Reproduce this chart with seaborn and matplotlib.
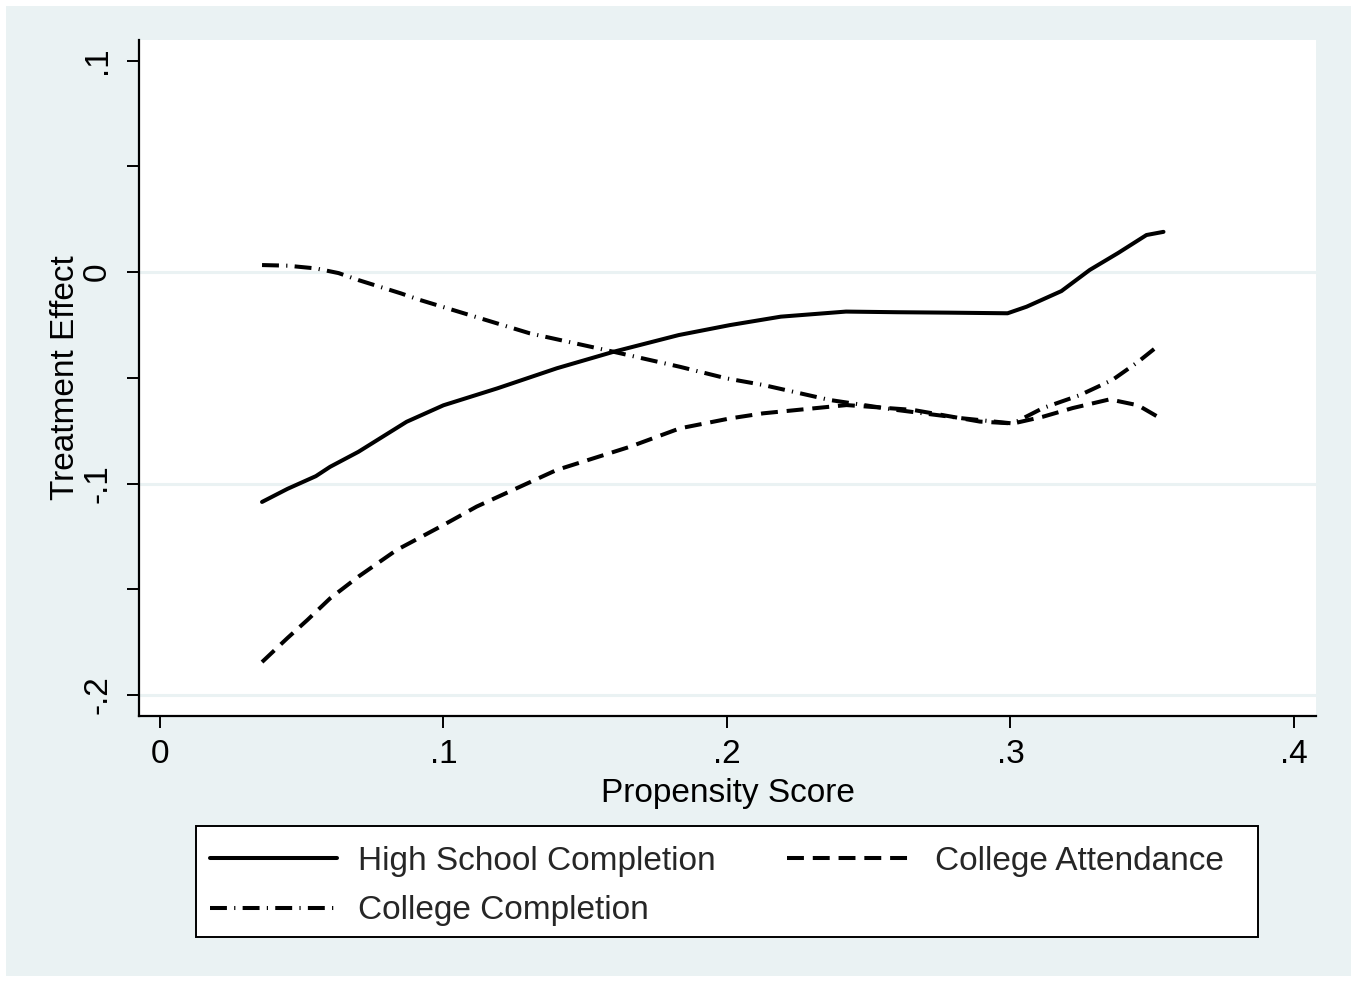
import numpy as np
import pandas as pd
import matplotlib
matplotlib.use("Agg")
import matplotlib.pyplot as plt
from matplotlib.patches import Rectangle
from matplotlib.lines import Line2D
import seaborn as sns

# Treatment-effect curves by propensity score
hs_x = [0.036, 0.045, 0.055, 0.060, 0.070, 0.087, 0.100, 0.119, 0.140, 0.160,
        0.183, 0.201, 0.219, 0.242, 0.260, 0.278, 0.299, 0.3057, 0.318, 0.328,
        0.338, 0.348, 0.354]
hs_y = [-0.1087, -0.1025, -0.0965, -0.0921, -0.0850, -0.0708, -0.0630, -0.0550, -0.0455, -0.0377,
        -0.0298, -0.0251, -0.0211, -0.0187, -0.0190, -0.0192, -0.0195, -0.0164, -0.009, 0.001,
        0.009, 0.0175, 0.019]

ca_x = [0.036, 0.045, 0.052, 0.060, 0.070, 0.0835, 0.100, 0.1117, 0.1399, 0.1658,
        0.1834, 0.2011, 0.2128, 0.2422, 0.2657, 0.2892, 0.301, 0.3115, 0.322, 0.335,
        0.345, 0.354]
ca_y = [-0.1844, -0.173, -0.1645, -0.1543, -0.144, -0.1314, -0.1196, -0.1109, -0.0936, -0.0826,
        -0.0739, -0.0692, -0.0668, -0.0629, -0.0652, -0.0707, -0.0716, -0.0684, -0.0643, -0.0602,
        -0.063, -0.070]

cc_x = [0.036, 0.045, 0.055, 0.063, 0.070, 0.085, 0.0917, 0.1305, 0.160, 0.1834,
        0.1999, 0.2128, 0.2363, 0.2598, 0.2834, 0.3009, 0.3115, 0.3245, 0.336, 0.345,
        0.352]
cc_y = [0.0033, 0.003, 0.0017, -0.0005, -0.0038, -0.0101, -0.0132, -0.0290, -0.0377, -0.0448,
        -0.0503, -0.0534, -0.0605, -0.0652, -0.0692, -0.0716, -0.0643, -0.0582, -0.051, -0.0425,
        -0.035]

series_names = ["High School Completion", "College Attendance", "College Completion"]

x_ticks = [0, 0.1, 0.2, 0.3, 0.4]
x_ticklabels = ["0", ".1", ".2", ".3", ".4"]
y_ticks = [-0.2, -0.15, -0.1, -0.05, 0, 0.05, 0.1]
y_ticklabels = ["-.2", "", "-.1", "", "0", "", ".1"]

df = pd.concat([
    pd.DataFrame({"ps": hs_x, "effect": hs_y, "outcome": series_names[0]}),
    pd.DataFrame({"ps": ca_x, "effect": ca_y, "outcome": series_names[1]}),
    pd.DataFrame({"ps": cc_x, "effect": cc_y, "outcome": series_names[2]}),
], ignore_index=True)

sns.set_theme(style="white")
plt.rcParams["font.family"] = ["Liberation Sans", "DejaVu Sans"]

BG = "#EAF2F3"
FS = 24
W, H = 1357, 982
fig = plt.figure(figsize=(W / 100, H / 100), dpi=100, facecolor="white")
fig.patches.append(Rectangle((6 / W, 6 / H), (W - 12) / W, (H - 12) / H,
                             transform=fig.transFigure, facecolor=BG,
                             edgecolor="none", zorder=-10))

ax = fig.add_axes([139 / W, 1 - 716 / H, (1316 - 139) / W, (716 - 40) / H])
ax.set_facecolor("white")

LW = 2.9
dashes = {
    series_names[0]: "",
    series_names[1]: (4.2, 2.2),
    series_names[2]: (4.2, 1.8, 0.3, 1.8),
}
sns.lineplot(data=df, x="ps", y="effect", hue="outcome", style="outcome",
             palette=["black"] * 3, dashes=dashes, linewidth=LW,
             sort=False, estimator=None, legend=False, ax=ax, zorder=3)

for g in [0, -0.1, -0.2]:
    ax.axhline(g, color=BG, lw=2.2, zorder=1)

ax.set_xlim(-0.0074, 0.4078)
ax.set_ylim(-0.2099, 0.1097)
ax.set_xticks(x_ticks)
ax.set_xticklabels(x_ticklabels)
ax.set_yticks(y_ticks)
ax.set_yticklabels(y_ticklabels, rotation=90, va="center")

for s in ["top", "right"]:
    ax.spines[s].set_visible(False)
for s in ["left", "bottom"]:
    ax.spines[s].set_color("black")
    ax.spines[s].set_linewidth(1.6)

ax.tick_params(axis="both", which="major", direction="out", length=8.6,
               width=1.4, color="black", labelsize=FS, labelcolor="black",
               left=True, bottom=True)
ax.tick_params(axis="x", pad=8)
ax.tick_params(axis="y", pad=10)

ax.set_xlabel("Propensity Score", fontsize=FS, color="black", labelpad=6)
ax.set_ylabel("Treatment Effect", fontsize=FS, color="black", labelpad=0.8)

# Legend box
fig.patches.append(Rectangle((196 / W, 1 - 937 / H), (1258 - 196) / W, (937 - 826) / H,
                             transform=fig.transFigure, facecolor="white",
                             edgecolor="black", linewidth=1.4, zorder=1))

# Legend entries: first row HS / CA, second row CC
handles = [
    Line2D([], [], color="black", lw=LW),
    Line2D([], [], color="black", lw=LW, dashes=dashes[series_names[2]]),
    Line2D([], [], color="black", lw=LW, dashes=dashes[series_names[1]]),
]
labels = [series_names[0], series_names[2], series_names[1]]
leg = fig.legend(handles, labels, loc="upper left",
                 bbox_to_anchor=(210 / W, 1 - 846 / H),
                 ncol=2, fontsize=FS, frameon=False,
                 handlelength=3.8, handletextpad=0.63, columnspacing=2.15,
                 borderpad=0, labelspacing=0.55, borderaxespad=0)

fig.savefig("out.png", dpi=100, facecolor="white")
